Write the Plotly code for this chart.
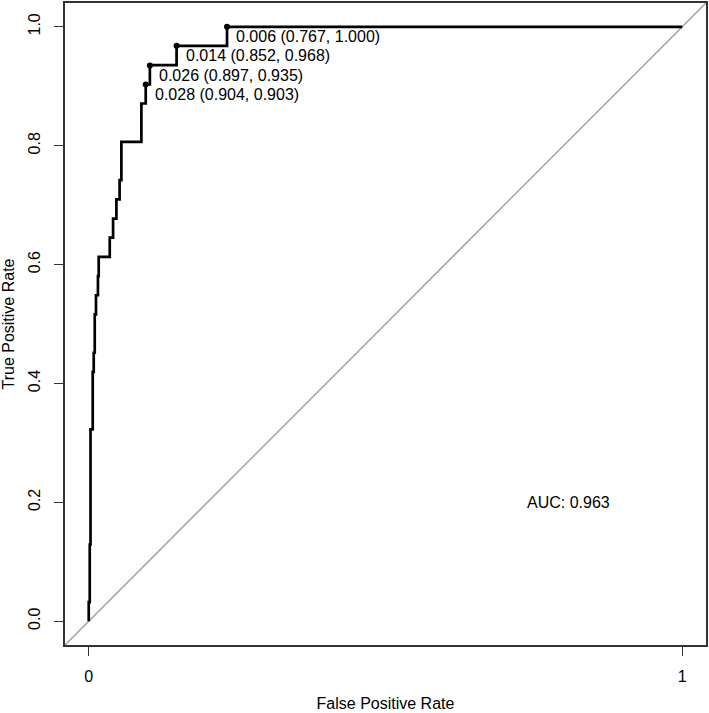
import plotly.graph_objects as go

# ROC curve data: vertical steps (false positive rate where the curve rises, true positive rate reached)
fpr_steps = [0.0, 0.0, 0.0017, 0.0030, 0.0067, 0.0084, 0.0101, 0.0122, 0.0155, 0.0168,
             0.0354, 0.0410, 0.0466, 0.0520, 0.0550, 0.0887, 0.0960, 0.1030, 0.1480, 0.2330, 1.0]
tpr_steps = [0.0, 1/31, 4/31, 10/31, 13/31, 14/31, 16/31, 17/31, 18/31, 19/31,
             20/31, 21/31, 22/31, 23/31, 25/31, 27/31, 28/31, 29/31, 30/31, 1.0, 1.0]

# highlighted thresholds: threshold, specificity, sensitivity
thr = [0.006, 0.014, 0.026, 0.028]
thr_spec = [0.767, 0.852, 0.897, 0.904]
thr_sens = [1.000, 0.968, 0.935, 0.903]

auc_value = 0.963

x_ticks = [0, 1]
x_ticklabels = ["0", "1"]
y_ticks = [0.0, 0.2, 0.4, 0.6, 0.8, 1.0]
y_ticklabels = ["0.0", "0.2", "0.4", "0.6", "0.8", "1.0"]

axis_range = [-0.04, 1.04]
FONT = "Liberation Sans, Arial, Helvetica, sans-serif"

fig = go.Figure()

# chance diagonal spanning the plot box
fig.add_trace(go.Scatter(x=axis_range, y=axis_range, mode="lines",
                         line=dict(color="#a0a0a0", width=1.5),
                         hoverinfo="skip", showlegend=False))

# ROC curve
fig.add_trace(go.Scatter(x=fpr_steps, y=tpr_steps, mode="lines",
                         line=dict(color="black", width=2.7, shape="hv"),
                         showlegend=False))

# threshold points
thr_fpr = [1 - s for s in thr_spec]
fig.add_trace(go.Scatter(x=thr_fpr, y=thr_sens, mode="markers",
                         marker=dict(color="black", size=6),
                         showlegend=False))

for t, sp, se, fx in zip(thr, thr_spec, thr_sens, thr_fpr):
    fig.add_annotation(x=fx, y=se, xref="x", yref="y",
                       text=f"{t:.3f} ({sp:.3f}, {se:.3f})",
                       showarrow=False, xanchor="left", yanchor="middle",
                       xshift=7, yshift=-10,
                       font=dict(family=FONT, size=16, color="black"))

fig.add_annotation(x=0.735, y=0.2, xref="x", yref="y",
                   text=f"AUC: {auc_value:.3f}", showarrow=False,
                   xanchor="left", yanchor="middle",
                   font=dict(family=FONT, size=16, color="black"))

axis_common = dict(range=axis_range, showgrid=False, zeroline=False,
                   showline=True, mirror=True, linecolor="#333333", linewidth=1.8,
                   ticks="outside", ticklen=9, tickwidth=1, tickcolor="#333333",
                   tickfont=dict(family=FONT, size=16, color="black"),
                   title_font=dict(family=FONT, size=16, color="black"))

fig.update_xaxes(**axis_common, tickvals=x_ticks, ticktext=x_ticklabels,
                 title_text="False Positive Rate", ticklabelstandoff=7, title_standoff=14)
fig.update_yaxes(**axis_common, tickvals=y_ticks, ticktext=y_ticklabels,
                 tickangle=-90, title_text="True Positive Rate", ticklabelstandoff=8,
                 title_standoff=9)

fig.update_layout(width=709, height=713,
                  margin=dict(l=65, r=2, t=1, b=68),
                  plot_bgcolor="white", paper_bgcolor="white",
                  font=dict(family=FONT, size=16, color="black"))

fig.write_html("out.html")
